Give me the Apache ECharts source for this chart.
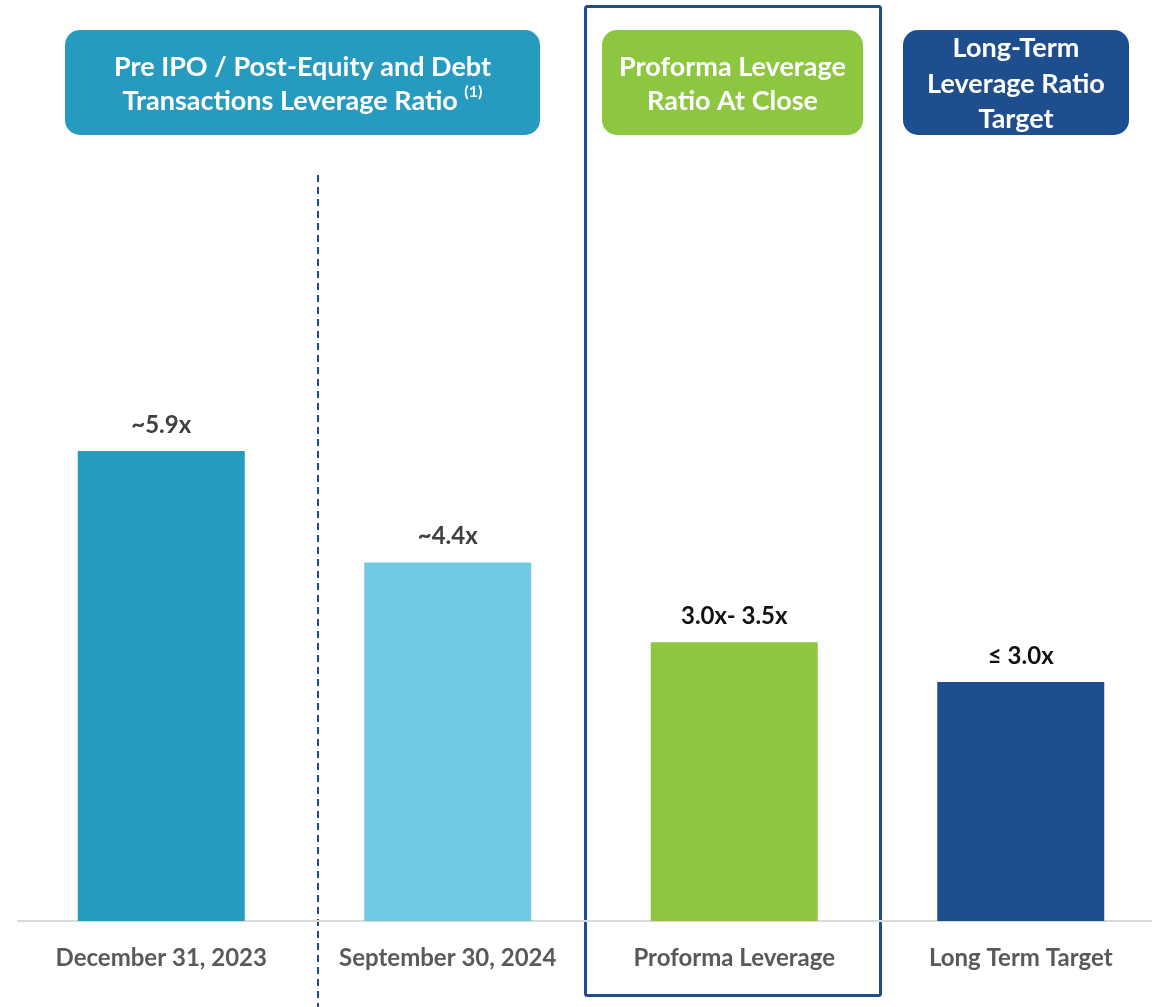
<!DOCTYPE html>
<html>
<head>
<meta charset="utf-8">
<script src="https://cdn.jsdelivr.net/npm/echarts@6/dist/echarts.min.js"></script>
<style>
html,body{margin:0;padding:0;background:#fff;}
#main{width:1152px;height:1007px;}
</style>
</head>
<body>
<div id="main"></div>
<script>
const categories = ['December 31, 2023', 'September 30, 2024', 'Proforma Leverage', 'Long Term Target'];
const values = [5.9, 4.5, 3.5, 3.0];
const valueLabels = ['~5.9x', '~4.4x', '3.0x- 3.5x', '\u2264 3.0x'];
const headerTexts = [
  'Pre IPO / Post-Equity and Debt\nTransactions Leverage Ratio {sup|(1)}',
  'Proforma Leverage\nRatio At Close',
  'Long-Term\nLeverage Ratio\nTarget'
];

const barColors = ['#259BBF', '#72C9E2', '#8DC63F', '#1F4E8F'];
const labelColors = ['#404040', '#404040', '#111111', '#111111'];
const FONT = 'Lato, "Open Sans", sans-serif';

const chart = echarts.init(document.getElementById('main'));
chart.setOption({
  animation: false,
  backgroundColor: '#ffffff',
  grid: { left: 18, width: 1146, top: 124.4, bottom: 86, containLabel: false, outerBoundsMode: 'none' },
  xAxis: {
    type: 'category',
    data: categories,
    axisLine: { show: true, lineStyle: { color: '#D9D9D9', width: 2 } },
    axisTick: { show: false },
    axisLabel: {
      margin: 25, color: '#595959', fontSize: 24, fontWeight: 'bold', fontFamily: FONT
    }
  },
  yAxis: {
    type: 'value', min: 0, max: 10, show: false,
    splitLine: { show: false }
  },
  series: [{
    type: 'bar',
    barWidth: 167,
    data: values.map((v, i) => ({
      value: v,
      itemStyle: { color: barColors[i] },
      label: { color: labelColors[i] }
    })),
    label: {
      show: true,
      position: 'top',
      distance: 14,
      fontSize: 24,
      fontWeight: 'bold',
      fontFamily: FONT,
      formatter: p => valueLabels[p.dataIndex]
    }
  }],
  graphic: [
    { type: 'rect', shape: { x: 65, y: 30, width: 475, height: 105, r: 15 }, style: { fill: '#279BBF' } },
    { type: 'rect', shape: { x: 602, y: 30, width: 261, height: 105, r: 15 }, style: { fill: '#8DC63F' } },
    { type: 'rect', shape: { x: 903, y: 30, width: 226, height: 105, r: 15 }, style: { fill: '#1F4E8F' } },
    { type: 'text', x: 302.5, y: 84, style: {
        text: headerTexts[0], fill: '#fff', fontSize: 27, fontWeight: 'bold', fontFamily: FONT,
        align: 'center', verticalAlign: 'middle', lineHeight: 34,
        rich: { sup: { fontSize: 16, fontWeight: 'bold', fontFamily: FONT, fill: '#fff', verticalAlign: 'top', lineHeight: 34, padding: [0, 0, 10, 0] } }
    } },
    { type: 'text', x: 732.5, y: 84, style: {
        text: headerTexts[1], fill: '#fff', fontSize: 27, fontWeight: 'bold', fontFamily: FONT,
        align: 'center', verticalAlign: 'middle', lineHeight: 34
    } },
    { type: 'text', x: 1016, y: 84, style: {
        text: headerTexts[2], fill: '#fff', fontSize: 27, fontWeight: 'bold', fontFamily: FONT,
        align: 'center', verticalAlign: 'middle', lineHeight: 35.5
    } },
    { type: 'rect', shape: { x: 585.5, y: 6.5, width: 295, height: 989, r: 2 },
      style: { fill: 'none', stroke: '#1F4E8F', lineWidth: 3 } },
    { type: 'line', shape: { x1: 318, y1: 175, x2: 318, y2: 1007 },
      style: { stroke: '#1F4E8F', lineWidth: 2, lineDash: [7, 5] } }
  ]
});
</script>
</body>
</html>
